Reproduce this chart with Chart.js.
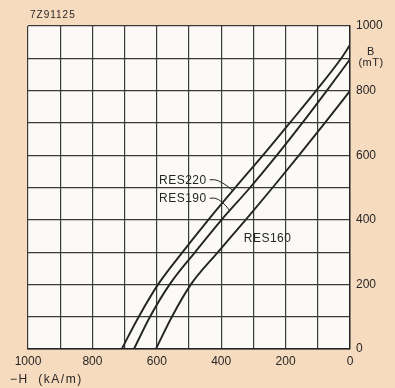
<!DOCTYPE html>
<html>
<head>
<meta charset="utf-8">
<script src="https://cdn.jsdelivr.net/npm/chart.js@4"></script>
<style>
  html, body { margin: 0; padding: 0; background: #f7dbbf; }
  #wrap { width: 395px; height: 388px; }
</style>
</head>
<body>
<div id="wrap"><canvas id="bhChart" width="395" height="388"></canvas></div>
<script>
// demagnetisation curves (-H in kA/m, B in mT)
const res220H = [709, 656, 596, 520, 440, 356, 270, 187, 105, 27, 0];
const res220B = [0, 100, 200, 300, 400, 500, 600, 700, 800, 900, 941];
const res190H = [671, 621, 560, 481, 399, 310, 227, 148, 72, 0];
const res190B = [0, 100, 200, 300, 400, 500, 600, 700, 800, 897];
const res160H = [603, 553, 494, 410, 324, 240, 158, 78, 0];
const res160B = [0, 100, 200, 300, 400, 500, 600, 700, 799];

const xTickLabels = [1000, 800, 600, 400, 200, 0];
const yTickLabels = [1000, 800, 600, 400, 200, 0];

const ink = '#242424';
const font = '"Liberation Sans", Arial, sans-serif';

function toPoints(hs, bs) {
    return hs.map((h, i) => ({ x: h, y: bs[i] }));
}

function curve(label, hs, bs) {
    return {
        label: label,
        data: toPoints(hs, bs),
        borderColor: ink,
        borderWidth: 1.9,
        pointRadius: 0,
        fill: false,
        cubicInterpolationMode: 'monotone',
    };
}

// background + text that Chart.js has no place for
const decorations = {
    id: 'decorations',
    beforeDraw(chart) {
        const { ctx, chartArea: a } = chart;
        ctx.save();
        ctx.fillStyle = '#f7dbbf';
        ctx.fillRect(0, 0, chart.width, chart.height);
        ctx.fillStyle = '#fbfaf6';
        ctx.fillRect(a.left, a.top, a.right - a.left, a.bottom - a.top);
        ctx.restore();
    },
    afterDraw(chart) {
        const { ctx, chartArea: a } = chart;
        const sx = chart.scales.x, sy = chart.scales.y;
        const px = h => sx.getPixelForValue(h);
        const py = b => sy.getPixelForValue(b);
        ctx.save();
        ctx.fillStyle = '#262626';
        ctx.strokeStyle = ink;

        // figure number
        ctx.font = '10px ' + font;
        ctx.letterSpacing = '1px';
        ctx.textBaseline = 'middle';
        ctx.textAlign = 'left';
        ctx.fillText('7Z91125', 30, 15);

        // y axis title
        ctx.font = '11px ' + font;
        ctx.letterSpacing = '0.5px';
        ctx.textAlign = 'center';
        ctx.fillText('B', a.right + 21, py(920));
        ctx.fillText('(mT)', a.right + 21, py(886));

        // x axis title
        ctx.font = '12px ' + font;
        ctx.letterSpacing = '1.5px';
        ctx.textAlign = 'left';
        ctx.fillText('\u2212H  (kA/m)', 10, 380);

        // curve labels
        ctx.font = '12px ' + font;
        ctx.letterSpacing = '0.5px';
        ctx.textAlign = 'right';
        ctx.fillText('RES220', px(445), py(522));
        ctx.fillText('RES190', px(445), py(465));
        ctx.textAlign = 'center';
        ctx.fillText('RES160', px(256), py(343));

        // leader lines
        ctx.lineWidth = 1;
        ctx.beginPath();
        ctx.moveTo(px(436), py(524));
        ctx.lineTo(px(420), py(524));
        ctx.quadraticCurveTo(px(398), py(520), px(363), py(490));
        ctx.stroke();
        ctx.beginPath();
        ctx.moveTo(px(436), py(467));
        ctx.lineTo(px(420), py(467));
        ctx.quadraticCurveTo(px(398), py(462), px(373), py(428));
        ctx.stroke();
        ctx.restore();
    }
};

new Chart(document.getElementById('bhChart').getContext('2d'), {
    type: 'line',
    data: {
        datasets: [
            curve('RES220', res220H, res220B),
            curve('RES190', res190H, res190B),
            curve('RES160', res160H, res160B),
        ]
    },
    options: {
        responsive: false,
        animation: false,
        layout: { padding: { left: 28, top: 26, right: 0, bottom: 0 } },
        plugins: {
            legend: { display: false },
            tooltip: { enabled: false },
        },
        scales: {
            x: {
                type: 'linear',
                reverse: true,
                min: 0,
                max: 1000,
                border: { color: ink, width: 1.4 },
                grid: { color: '#3a3a3a', lineWidth: 1.2, drawTicks: false },
                ticks: {
                    stepSize: 100,
                    autoSkip: false,
                    maxRotation: 0,
                    padding: 5,
                    color: '#262626',
                    font: { family: font, size: 12 },
                    callback: v => xTickLabels.includes(v) ? String(v) : '',
                },
                afterFit: s => { s.height = 39; },
            },
            y: {
                type: 'linear',
                position: 'right',
                min: 0,
                max: 1000,
                border: { color: ink, width: 1.4 },
                grid: { color: '#3a3a3a', lineWidth: 1.2, drawTicks: false },
                ticks: {
                    stepSize: 100,
                    autoSkip: false,
                    padding: 6,
                    color: '#262626',
                    font: { family: font, size: 12 },
                    callback: v => yTickLabels.includes(v) ? String(v) : '',
                },
                afterFit: s => { s.width = 45; },
            }
        }
    },
    plugins: [decorations]
});
</script>
</body>
</html>
